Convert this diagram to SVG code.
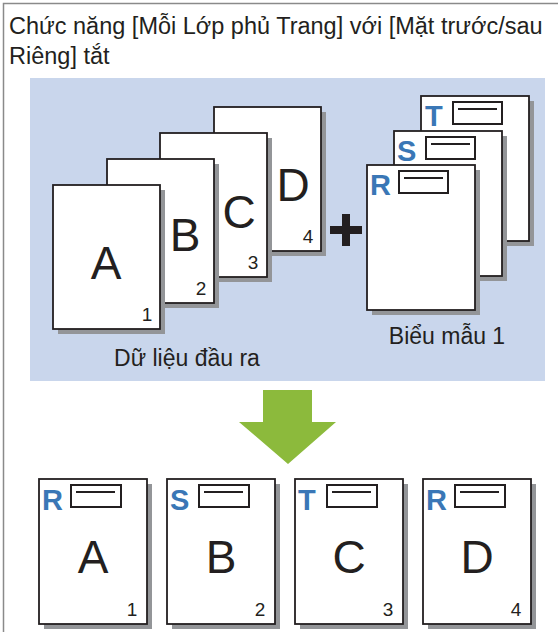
<svg xmlns="http://www.w3.org/2000/svg" width="558" height="632" viewBox="0 0 558 632">
<style>
.frame{fill:none;stroke:#8a8a8a;stroke-width:1.5}
.panel{fill:#c9d6ec}
.page{fill:#fff;stroke:#231f20;stroke-width:1.8}
.shadow{fill:#939598}
.big{font-family:"Liberation Sans",Arial,sans-serif;font-size:46px;fill:#231f20;text-anchor:middle}
.num{font-family:"Liberation Sans",Arial,sans-serif;font-size:19px;fill:#231f20;text-anchor:middle}
.tag{font-family:"Liberation Sans",Arial,sans-serif;font-size:29px;font-weight:bold;fill:#3a77b6}
.box{fill:#fff;stroke:#231f20;stroke-width:2}
.ln{stroke:#231f20;stroke-width:2}
.label{font-family:"Liberation Sans",Arial,sans-serif;font-size:23px;fill:#231f20}
.title{font-family:"Liberation Sans",Arial,sans-serif;font-size:23.5px;fill:#231f20}
</style>
<rect class="frame" x="3.5" y="3.5" width="600" height="680"/>
<text class="title" x="9" y="34">Chức năng [Mỗi Lớp phủ Trang] với [Mặt trước/sau</text>
<text class="title" x="9" y="64">Riêng] tắt</text>
<rect class="panel" x="30" y="78" width="515" height="303"/>

<g id="output-data">
  <g id="page-D">
    <rect class="shadow" x="219" y="112" width="107" height="144"/>
    <rect class="page" x="214" y="107" width="107" height="144"/>
    <text class="big" x="293" y="201">D</text>
    <text class="num" x="308" y="243">4</text>
  </g>
  <g id="page-C">
    <rect class="shadow" x="165" y="138" width="107" height="144"/>
    <rect class="page" x="160" y="133" width="107" height="144"/>
    <text class="big" x="239" y="228">C</text>
    <text class="num" x="253" y="269">3</text>
  </g>
  <g id="page-B">
    <rect class="shadow" x="112" y="164" width="107" height="144"/>
    <rect class="page" x="107" y="159" width="107" height="144"/>
    <text class="big" x="185" y="251">B</text>
    <text class="num" x="201" y="295">2</text>
  </g>
  <g id="page-A">
    <rect class="shadow" x="58" y="190" width="107" height="144"/>
    <rect class="page" x="53" y="185" width="107" height="144"/>
    <text class="big" x="106" y="279">A</text>
    <text class="num" x="147" y="321">1</text>
  </g>
  <text class="label" x="187" y="366" text-anchor="middle">Dữ liệu đầu ra</text>
</g>

<g id="form-1">
  <g id="form-T">
    <rect class="shadow" x="426" y="101" width="108" height="145"/>
    <rect class="page" x="421" y="96" width="108" height="145"/>
    <text class="tag" x="425" y="126">T</text>
    <rect class="box" x="453" y="102" width="49" height="22"/>
    <line class="ln" x1="458" y1="109" x2="497" y2="109"/>
  </g>
  <g id="form-S">
    <rect class="shadow" x="399" y="136" width="108" height="145"/>
    <rect class="page" x="394" y="131" width="108" height="145"/>
    <text class="tag" x="397" y="161">S</text>
    <rect class="box" x="426" y="137" width="49" height="22"/>
    <line class="ln" x1="431" y1="144" x2="470" y2="144"/>
  </g>
  <g id="form-R">
    <rect class="shadow" x="372" y="170" width="108" height="145"/>
    <rect class="page" x="367" y="165" width="108" height="145"/>
    <text class="tag" x="370" y="195">R</text>
    <rect class="box" x="399" y="171" width="49" height="22"/>
    <line class="ln" x1="404" y1="178" x2="443" y2="178"/>
  </g>
  <text class="label" x="447" y="344" text-anchor="middle">Biểu mẫu 1</text>
</g>

<g id="connectors">
  <path id="plus" d="M342,214 h8 v12 h12 v8 h-12 v12 h-8 v-12 h-12 v-8 h12 z" fill="#231f20"/>
  <path id="arrow" d="M263,390 H312 V422 H336 L288,464 L239,422 H263 Z" fill="#8cba3c"/>
</g>

<g id="result">
  <g id="result-1">
    <rect class="shadow" x="44" y="484" width="108" height="145"/>
    <rect class="page" x="39" y="479" width="108" height="145"/>
    <text class="tag" x="42" y="510">R</text>
    <rect class="box" x="71" y="485" width="50" height="22"/>
    <line class="ln" x1="76" y1="492" x2="115" y2="492"/>
    <text class="big" x="93" y="573">A</text>
    <text class="num" x="132" y="616">1</text>
  </g>
  <g id="result-2">
    <rect class="shadow" x="172" y="484" width="108" height="145"/>
    <rect class="page" x="167" y="479" width="108" height="145"/>
    <text class="tag" x="170" y="510">S</text>
    <rect class="box" x="199" y="485" width="50" height="22"/>
    <line class="ln" x1="204" y1="492" x2="243" y2="492"/>
    <text class="big" x="221" y="573">B</text>
    <text class="num" x="260" y="616">2</text>
  </g>
  <g id="result-3">
    <rect class="shadow" x="300" y="484" width="108" height="145"/>
    <rect class="page" x="295" y="479" width="108" height="145"/>
    <text class="tag" x="298" y="510">T</text>
    <rect class="box" x="327" y="485" width="50" height="22"/>
    <line class="ln" x1="332" y1="492" x2="371" y2="492"/>
    <text class="big" x="349" y="573">C</text>
    <text class="num" x="388" y="616">3</text>
  </g>
  <g id="result-4">
    <rect class="shadow" x="428" y="484" width="108" height="145"/>
    <rect class="page" x="423" y="479" width="108" height="145"/>
    <text class="tag" x="426" y="510">R</text>
    <rect class="box" x="455" y="485" width="50" height="22"/>
    <line class="ln" x1="460" y1="492" x2="499" y2="492"/>
    <text class="big" x="477" y="573">D</text>
    <text class="num" x="516" y="616">4</text>
  </g>
</g>
</svg>
